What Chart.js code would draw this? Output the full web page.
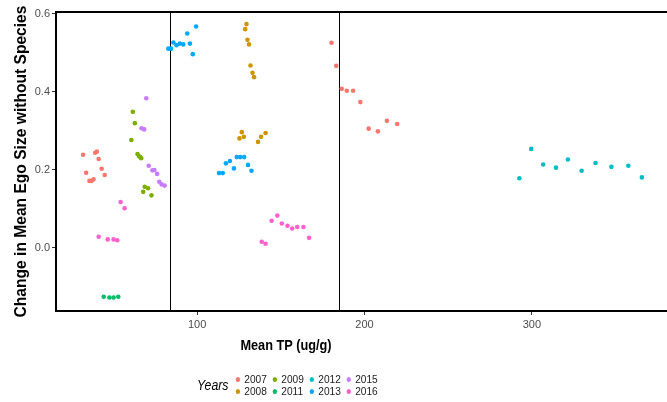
<!DOCTYPE html>
<html>
<head>
<meta charset="utf-8">
<script src="https://cdn.jsdelivr.net/npm/chart.js@4"></script>
<style>
  body { margin: 0; background: #fff; overflow: hidden; }
  #wrap { position: relative; width: 667px; height: 402px; overflow: hidden; }
  #grafico { position: absolute; left: 0; top: 0; }
  #tituloX { position: absolute; left: 226px; top: 337px; width: 120px; text-align: center;
    font: bold 14.5px "Liberation Sans", Arial, sans-serif; color: #000; white-space: nowrap;
    transform: scaleX(0.88); transform-origin: center; }
  #legenda { position: absolute; left: 197px; top: 373px; display: flex; align-items: center;
    font-family: "Liberation Sans", Arial, sans-serif; transform: scaleX(0.88); transform-origin: left center; }
  #legenda .titulo { font-style: italic; font-size: 14px; margin-right: 8px; color: #000; }
  #legenda .itens { display: grid; grid-auto-flow: column; grid-template-rows: 12px 12px;
    grid-auto-columns: 42px; }
  #legenda .item { display: flex; align-items: center; font-size: 11.5px; color: #1a1a1a; line-height: 12px; }
  #legenda .ponto { width: 5px; height: 5px; border-radius: 50%; margin: 0 5px 0 0; }
</style>
</head>
<body>
<div id="wrap">
  <canvas id="grafico" width="672" height="402"></canvas>
  <div id="tituloX">Mean TP (ug/g)</div>
  <div id="legenda"></div>
</div>
<script>
// === Dados ===
const anos = ["2007", "2008", "2009", "2011", "2012", "2013", "2015", "2016"];
const cores = ["#F8766D", "#CD9600", "#7CAE00", "#00BE67", "#00BFC4", "#00A9FF", "#C77CFF", "#FF61CC"];

const tp2007 = [31.9, 33.7, 35.7, 36.9, 38.1, 39.1, 40.1, 41.2, 43.0, 44.8, 180.3, 183.1, 186.4, 189.4, 193.2, 197.5, 202.5, 208.0, 213.4, 219.5];
const ego2007 = [0.238, 0.192, 0.171, 0.171, 0.175, 0.243, 0.246, 0.227, 0.202, 0.186, 0.525, 0.466, 0.407, 0.402, 0.402, 0.373, 0.305, 0.298, 0.325, 0.317];

const tp2008 = [128.7, 129.5, 130.1, 131.0, 131.9, 133.1, 134.0, 125.3, 126.7, 127.9, 136.4, 138.2, 140.9];
const ego2008 = [0.560, 0.573, 0.533, 0.521, 0.467, 0.448, 0.437, 0.280, 0.296, 0.284, 0.271, 0.284, 0.294];

const tp2009 = [60.7, 61.6, 62.8, 64.4, 65.2, 66.0, 66.6, 67.8, 68.7, 70.7, 72.7];
const ego2009 = [0.276, 0.348, 0.319, 0.240, 0.235, 0.232, 0.229, 0.143, 0.156, 0.152, 0.134];

const tp2011 = [44.2, 47.6, 50.1, 52.9];
const ego2011 = [-0.126, -0.128, -0.128, -0.126];

const tp2012 = [292.5, 299.6, 306.7, 314.4, 321.5, 329.7, 338.0, 347.5, 357.6, 365.7];
const ego2012 = [0.178, 0.253, 0.213, 0.205, 0.226, 0.197, 0.217, 0.207, 0.210, 0.180];

const tp2013 = [82.8, 84.4, 85.8, 87.7, 89.7, 91.7, 94.1, 95.7, 97.4, 99.4, 113.1, 115.3, 117.2, 119.6, 122.0, 123.7, 125.7, 128.1, 130.4, 132.5];
const ego2013 = [0.510, 0.510, 0.526, 0.519, 0.523, 0.521, 0.549, 0.523, 0.496, 0.567, 0.191, 0.191, 0.216, 0.222, 0.203, 0.232, 0.232, 0.232, 0.212, 0.197];

const tp2015 = [66.8, 68.4, 69.6, 71.1, 73.3, 74.5, 76.1, 77.4, 78.8, 80.6];
const ego2015 = [0.306, 0.303, 0.383, 0.210, 0.198, 0.199, 0.189, 0.169, 0.162, 0.159];

const tp2016 = [41.2, 46.6, 50.1, 52.3, 54.3, 56.7, 138.6, 140.9, 144.5, 147.9, 150.6, 154.0, 156.8, 159.8, 163.5, 166.9];
const ego2016 = [0.028, 0.021, 0.021, 0.019, 0.117, 0.101, 0.015, 0.010, 0.069, 0.082, 0.062, 0.056, 0.049, 0.053, 0.053, 0.025];

const ticksX = [100, 200, 300];
const ticksY = [0.0, 0.2, 0.4, 0.6];
const cortes = [83.6, 184.9]; // linhas verticais

const seriesTP = [tp2007, tp2008, tp2009, tp2011, tp2012, tp2013, tp2015, tp2016];
const seriesEgo = [ego2007, ego2008, ego2009, ego2011, ego2012, ego2013, ego2015, ego2016];

// === Datasets ===
const datasets = anos.map((ano, i) => ({
  label: ano,
  data: seriesTP[i].map((x, j) => ({ x, y: seriesEgo[i][j] })),
  backgroundColor: cores[i],
  borderWidth: 0,
  pointRadius: 2.3,
}));

// === Moldura e linhas verticais ===
const moldura = {
  id: "moldura",
  beforeDatasetsDraw(chart) {
    const { ctx, chartArea, scales } = chart;
    ctx.save();
    ctx.strokeStyle = "#000";
    ctx.lineWidth = 1;
    cortes.forEach(v => {
      const px = Math.round(scales.x.getPixelForValue(v)) + 0.5;
      ctx.beginPath();
      ctx.moveTo(px, chartArea.top);
      ctx.lineTo(px, chartArea.bottom);
      ctx.stroke();
    });
    ctx.restore();
  },
  afterDatasetsDraw(chart) {
    const { ctx, chartArea } = chart;
    ctx.save();
    ctx.strokeStyle = "#000";
    ctx.lineWidth = 2;
    ctx.strokeRect(chartArea.left, chartArea.top, chartArea.right - chartArea.left, chartArea.bottom - chartArea.top);
    ctx.restore();
  },
};

const fonteTick = { family: "'Liberation Sans', Arial, sans-serif", size: 11 };

new Chart(document.getElementById("grafico"), {
  type: "scatter",
  data: { datasets },
  plugins: [moldura],
  options: {
    responsive: false,
    animation: false,
    layout: { padding: { top: 12, left: 0, right: 0, bottom: 0 } },
    plugins: { legend: { display: false }, tooltip: { enabled: false } },
    scales: {
      x: {
        type: "linear",
        min: 15.7,
        max: 381.3,
        afterBuildTicks: s => { s.ticks = ticksX.map(v => ({ value: v })); },
        afterFit: s => { s.height = 91; },
        grid: { drawOnChartArea: false, drawTicks: true, tickLength: 4, color: "#333" },
        border: { display: false },
        ticks: { color: "#4D4D4D", font: fonteTick, padding: 3, maxRotation: 0 },
      },
      y: {
        type: "linear",
        min: -0.1625,
        max: 0.604,
        afterBuildTicks: s => { s.ticks = ticksY.map(v => ({ value: v })); },
        afterFit: s => { s.width = 56; },
        grid: { drawOnChartArea: false, drawTicks: true, tickLength: 4, color: "#333" },
        border: { display: false },
        ticks: { color: "#4D4D4D", font: fonteTick, padding: 2, callback: v => Number(v).toFixed(1) },
        title: {
          display: true,
          text: "Change in Mean Ego Size without Species",
          color: "#000",
          font: { family: "'Liberation Sans', Arial, sans-serif", size: 15.6, weight: "bold" },
          padding: { top: 12, bottom: 0 },
        },
      },
    },
  },
});

// === Legenda ===
const legenda = document.getElementById("legenda");
let html = `<span class="titulo">Years</span><div class="itens">`;
anos.forEach((ano, i) => {
  html += `<div class="item"><span class="ponto" style="background:${cores[i]}"></span>${ano}</div>`;
});
html += "</div>";
legenda.innerHTML = html;
</script>
</body>
</html>
